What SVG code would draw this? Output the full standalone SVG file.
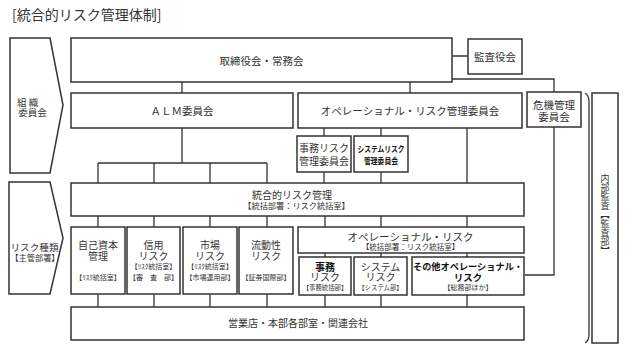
<svg xmlns="http://www.w3.org/2000/svg" width="626" height="352" viewBox="0 0 626 352">
<style>
text{font-family:"Noto Sans CJK JP","Noto Sans",sans-serif;fill:#333;text-anchor:middle}
.b{fill:#fff;stroke:#333;stroke-width:1.5}
.c{fill:none;stroke:#333;stroke-width:1.3}
.f{font-size:10.5px}
.m{font-size:10px}
.s{font-size:7px}
.bd{font-weight:bold;fill:#111}
</style>
<rect width="626" height="352" fill="#fff"/>
<text x="12" y="20" style="font-size:14px;text-anchor:start">[統合的リスク管理体制]</text>

<g id="connectors" class="c">
<path d="M182,82V93M410,82V93M452,56H468M452,79H554V92"/>
<path d="M182,128V163M98,163H267M98,163V183M154,163V183M210,163V183M267,163V183"/>
<path d="M324,128V136M381,128V136M324,172V183M381,172V183M467,128V183"/>
<path d="M98,216V227M154,216V227M210,216V227M267,216V227M325,216V227M381,216V227M467,216V227"/>
<path d="M325,253V257M381,253V257M467,253V257"/>
<path d="M98,294V307M154,294V307M210,294V307M267,294V307M325,295V307M381,295V307M467,295V307"/>
<path d="M554,127V275H525"/>
</g>

<g id="org-committee">
<path class="b" d="M10,38H50L63,105L50,173H10Z"/>
<text x="17" y="105.5" style="font-size:9.5px;text-anchor:start">組 織</text>
<text x="32.5" y="116" style="font-size:9.5px">委員会</text>
</g>
<g id="risk-type">
<path class="b" d="M9,182H50L63,238L50,294H9Z"/>
<text x="34.5" y="250.5" style="font-size:9.6px">リスク種類</text>
<text x="35" y="260.5" style="font-size:8.2px">【主管部署】</text>
</g>

<g id="board"><rect class="b" x="71" y="38" width="381" height="44"/>
<text class="f" x="261.5" y="64.5">取締役会・常務会</text></g>
<g id="auditors"><rect class="b" x="468" y="39" width="54" height="35"/>
<text class="f" x="495" y="60.5">監査役会</text></g>
<g id="alm"><rect class="b" x="71" y="93" width="222" height="35"/>
<text class="f" x="182" y="115">ＡＬＭ委員会</text></g>
<g id="op-committee"><rect class="b" x="298" y="93" width="224" height="35"/>
<text class="f" x="410" y="115">オペレーショナル・リスク管理委員会</text></g>
<g id="crisis"><rect class="b" x="527" y="92" width="54" height="35"/>
<text class="f" x="554" y="108.5">危機管理</text>
<text class="f" x="554" y="120.5">委員会</text></g>
<g id="jimu-committee"><rect class="b" x="297" y="136" width="54" height="36"/>
<text class="m" x="324" y="152">事務リスク</text>
<text class="m" x="324" y="165">管理委員会</text></g>
<g id="system-committee"><rect class="b" x="354" y="136" width="54" height="36"/>
<text class="bd" x="381" y="151.5" style="font-size:8.5px" textLength="47" lengthAdjust="spacingAndGlyphs">システムリスク</text>
<text class="bd" x="381" y="164" style="font-size:8.5px" textLength="34" lengthAdjust="spacingAndGlyphs">管理委員会</text></g>

<g id="integrated"><rect class="b" x="71" y="183" width="453" height="33"/>
<text class="m" x="292" y="199">統合的リスク管理</text>
<text x="296.5" y="208.5" style="font-size:8.2px">【統括部署：リスク統括室】</text></g>

<g id="capital"><rect class="b" x="71" y="227" width="54" height="67"/>
<text class="m" x="98" y="249">自己資本</text>
<text class="m" x="98" y="260">管理</text>
<text class="s" x="98" y="279.5">【ﾘｽｸ統括室】</text></g>
<g id="credit"><rect class="b" x="127" y="227" width="53" height="67"/>
<text class="m" x="153.5" y="249">信用</text>
<text class="m" x="153.5" y="260">リスク</text>
<text class="s" x="153.5" y="268.5">【ﾘｽｸ統括室】</text>
<text class="s" x="153.5" y="279.5">【審　査　部】</text></g>
<g id="market"><rect class="b" x="183" y="227" width="54" height="67"/>
<text class="m" x="210" y="249">市場</text>
<text class="m" x="210" y="260">リスク</text>
<text class="s" x="210" y="268.5">【ﾘｽｸ統括室】</text>
<text class="s" x="210" y="279.5">【市場運用部】</text></g>
<g id="liquidity"><rect class="b" x="239" y="227" width="54" height="67"/>
<text class="m" x="266" y="249">流動性</text>
<text class="m" x="266" y="260">リスク</text>
<text class="s" x="266" y="279.5">【証券国際部】</text></g>

<g id="op-risk"><rect class="b" x="298" y="227" width="226" height="26"/>
<text class="f" x="410.5" y="241">オペレーショナル・リスク</text>
<text x="410.5" y="250" style="font-size:7.5px">【統括部署：リスク統括室】</text></g>
<g id="jimu-risk"><rect class="b" x="299" y="257" width="52" height="38"/>
<text class="m bd" x="325" y="270.5">事務</text>
<text class="m" x="325" y="281">リスク</text>
<text x="325" y="290" style="font-size:6.4px">【事務統括部】</text></g>
<g id="system-risk"><rect class="b" x="354" y="257" width="53" height="38"/>
<text class="m" x="380.5" y="270.5">システム</text>
<text class="m" x="380.5" y="281">リスク</text>
<text x="380.5" y="290" style="font-size:6.4px">【システム部】</text></g>
<g id="other-op-risk"><rect class="b" x="412" y="257" width="112" height="38"/>
<text class="bd" x="468" y="270" style="font-size:9.2px">その他オペレーショナル・</text>
<text class="bd" x="468" y="281" style="font-size:9.5px">リスク</text>
<text class="s" x="468" y="290">【総務部ほか】</text></g>

<g id="branches"><rect class="b" x="71" y="307" width="453" height="33"/>
<text class="m" x="298" y="327">営業店・本部各部室・関連会社</text></g>

<g id="internal-audit">
<path class="c" d="M585,93Q589,95 589,102V334Q589,341 585,343"/>
<rect class="b" x="592" y="93" width="26" height="250"/>
<text x="605" y="174" style="font-size:9px;text-anchor:start;writing-mode:vertical-rl;text-orientation:upright">内部監査【監査部】</text>
</g>
</svg>
